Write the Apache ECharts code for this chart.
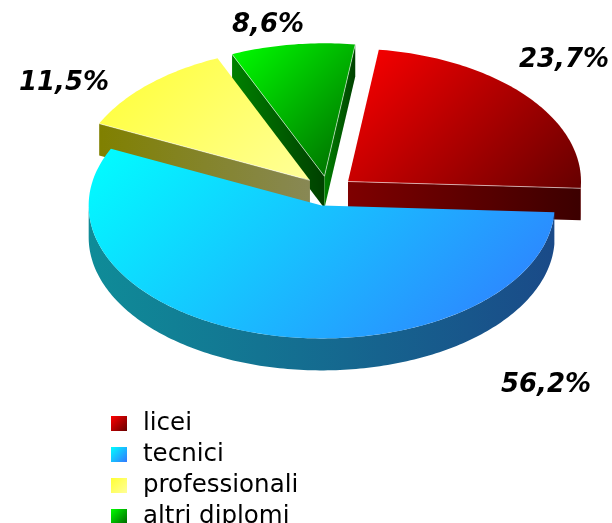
<!DOCTYPE html>
<html><head><meta charset="utf-8">
<style>html,body{margin:0;padding:0;background:#fff}#c{width:612px;height:523px}</style>
<script src="https://cdn.jsdelivr.net/npm/echarts@6/dist/echarts.min.js"></script>
</head><body><div id="c"></div>
<script>
const categories = ['licei', 'tecnici', 'professionali', 'altri diplomi'];
const values = [23.7, 56.2, 11.5, 8.6];
const topColors = [['#ff0000', '#660000'], ['#00ffff', '#3377ff'], ['#ffff33', '#ffff99'], ['#00ff00', '#006600']];
const wallColors = [['#7f0000', '#3c0000'], ['#0f8c98', '#1a4a88'], ['#808000', '#888855'], ['#008000', '#004000']];
const labelPos = [[564, 60], [546, 385], [64, 83], [268, 25]];
const drawOrder = [3, 0, 2, 1];

const startDeg = 7.6, cx = 328, cy = 191, rx = 233, ry = 133, burst = 26, depth = 32;
const total = values.reduce((a, b) => a + b, 0);
const rad = d => d * Math.PI / 180;
const grad = c => new echarts.graphic.LinearGradient(0, 0, 1, 1, [{offset: 0, color: c[0]}, {offset: 1, color: c[1]}]);
const gradH = c => new echarts.graphic.LinearGradient(0, 0, 1, 0, [{offset: 0, color: c[0]}, {offset: 1, color: c[1]}]);
function gradDiag(points, c) {
  const xs = points.map(p => p[0]), ys = points.map(p => p[1]);
  const x0 = Math.min(...xs), y0 = Math.min(...ys);
  const s = (Math.max(...xs) - x0 + Math.max(...ys) - y0) / 2;
  return new echarts.graphic.LinearGradient(x0, y0, x0 + s, y0 + s,
    [{offset: 0, color: c[0]}, {offset: 1, color: c[1]}], true);
}

function makeRender(idx) {
  return function (params, api) {
    const v = api.value(0);
    let before = 0;
    for (let i = 0; i < idx; i++) before += values[i];
    const a1 = startDeg + before / total * 360, a2 = a1 + v / total * 360, mid = (a1 + a2) / 2;
    const ox = cx + burst * Math.sin(rad(mid)), oy = cy - burst * ry / rx * Math.cos(rad(mid));
    const pt = (a, dz) => [ox + rx * Math.sin(rad(a)), oy - ry * Math.cos(rad(a)) + (dz || 0)];
    const arc = (from, to, dz) => {
      const n = Math.max(2, Math.ceil(Math.abs(to - from))), out = [];
      for (let i = 0; i <= n; i++) out.push(pt(from + (to - from) * i / n, dz));
      return out;
    };
    const apex = [ox, oy], apexB = [ox, oy + depth];
    const kids = [];
    const wall = (a) => {
      kids.push({type: 'polygon', shape: {points: [pt(a), pt(a, depth), apexB, apex]},
        style: {fill: gradH(wallColors[idx])}});
    };
    if (Math.sin(rad(a1)) < 0) wall(a1);
    if (Math.sin(rad(a2)) > 0) wall(a2);
    const f1 = Math.max(a1, 90), f2 = Math.min(a2, 270);
    if (f2 > f1) {
      kids.push({type: 'polygon', shape: {points: arc(f1, f2, 0).concat(arc(f2, f1, depth))},
        style: {fill: gradH(wallColors[idx])}});
    }
    const topPts = [apex].concat(arc(a1, a2));
    kids.push({type: 'polygon', shape: {points: topPts}, style: {fill: gradDiag(topPts, topColors[idx])}});
    const edge = (a) => kids.push({type: 'line', shape: {x1: apex[0], y1: apex[1], x2: pt(a)[0], y2: pt(a)[1]},
      style: {stroke: 'rgba(255,255,255,0.55)', lineWidth: 1, fill: null}});
    if (Math.sin(rad(a1)) < 0) edge(a1);
    if (Math.sin(rad(a2)) > 0 && idx !== 1) edge(a2);
    kids.push({type: 'text', x: labelPos[idx][0], y: labelPos[idx][1], style: {
      text: v.toFixed(1).replace('.', ',') + '%', fill: '#000', align: 'center', verticalAlign: 'middle',
      font: 'italic bold 26px "DejaVu Sans"'}});
    return {type: 'group', children: kids};
  };
}

const chart = echarts.init(document.getElementById('c'), null, {renderer: 'canvas'});
chart.setOption({
  animation: false,
  backgroundColor: '#fff',
  legend: {
    data: categories, orient: 'vertical', left: 111, top: 411, height: 200, padding: 0,
    icon: 'rect', itemWidth: 16, itemHeight: 15, itemGap: 6, selectedMode: false,
    textStyle: {fontFamily: '"DejaVu Sans"', fontSize: 24.5, color: '#000', padding: [0, 0, 0, 11]}
  },
  series: drawOrder.map(i => ({
    type: 'custom', name: categories[i], coordinateSystem: 'none',
    itemStyle: {color: grad(topColors[i])},
    data: [[values[i]]], encode: {value: 0},
    renderItem: makeRender(i), silent: true
  }))
});
</script></body></html>
